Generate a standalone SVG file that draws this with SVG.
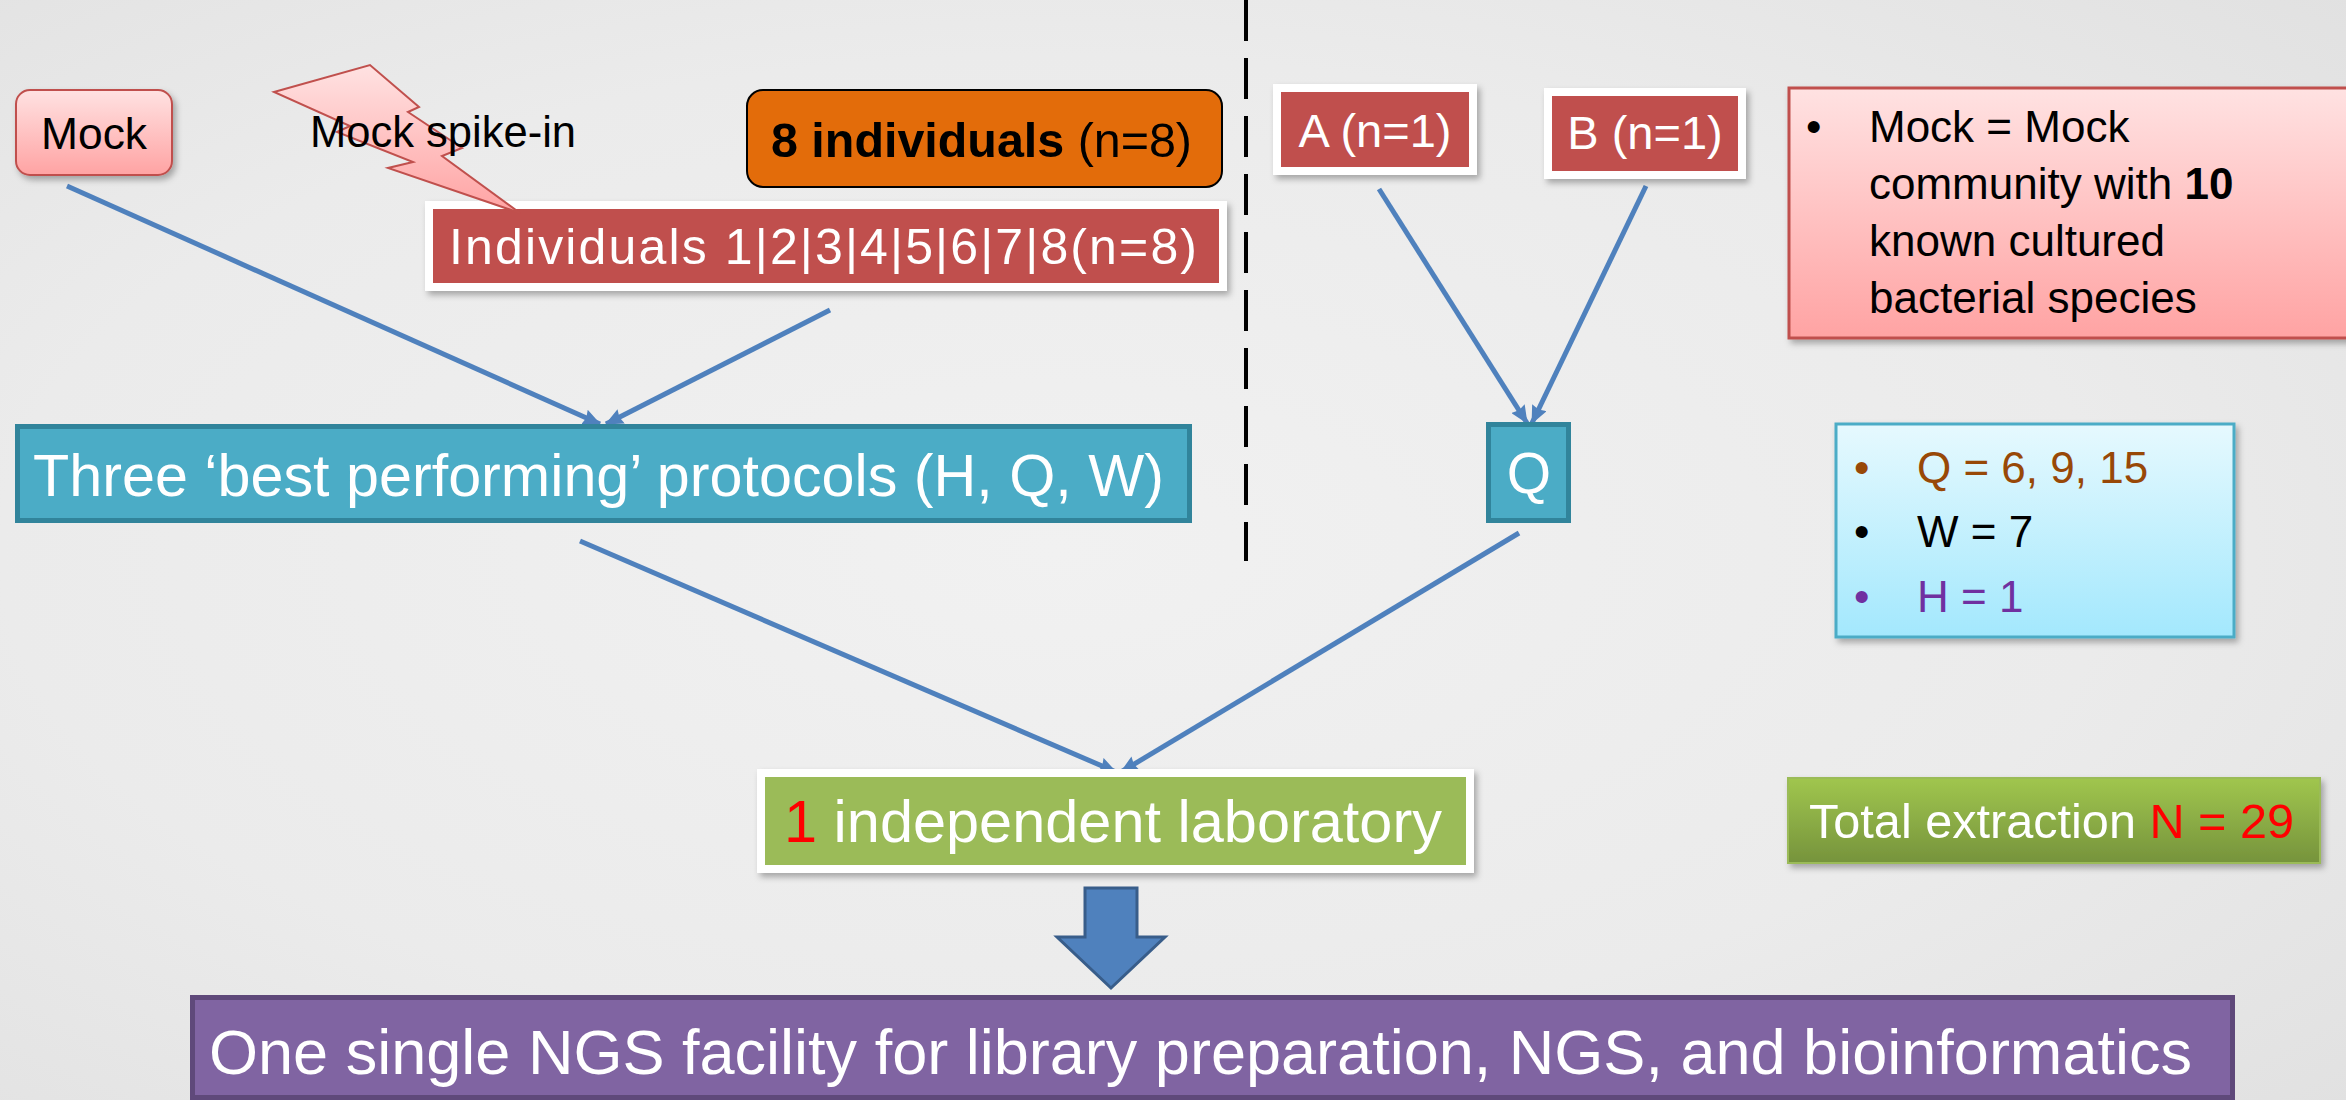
<svg xmlns="http://www.w3.org/2000/svg" width="2346" height="1100" viewBox="0 0 2346 1100">
<style>
text{font-family:"Liberation Sans",Arial,sans-serif}
.w{fill:#ffffff}
.k{fill:#000000}
.red{fill:#C0504D;stroke:#ffffff;stroke-width:8}
.teal{fill:#4BACC6;stroke:#31849B;stroke-width:5}
.conn{stroke:#4F81BD;stroke-width:5;fill:none;marker-end:url(#ah)}
</style>
<defs>
<radialGradient id="bg" cx="0.45" cy="0.5" r="0.75">
<stop offset="0" stop-color="#F1F1F1"/>
<stop offset="0.6" stop-color="#EBEBEB"/>
<stop offset="1" stop-color="#E1E1E1"/>
</radialGradient>
<linearGradient id="pink" x1="0" y1="0" x2="0" y2="1">
<stop offset="0" stop-color="#FFE2E2"/>
<stop offset="1" stop-color="#FFA3A3"/>
</linearGradient>
<linearGradient id="cyan" x1="0" y1="0" x2="0" y2="1">
<stop offset="0" stop-color="#E6F9FE"/>
<stop offset="1" stop-color="#A3E8FD"/>
</linearGradient>
<linearGradient id="green" x1="0" y1="0" x2="0" y2="1">
<stop offset="0" stop-color="#A0C64E"/>
<stop offset="1" stop-color="#76933C"/>
</linearGradient>
<filter id="sh" x="-10%" y="-20%" width="120%" height="150%">
<feDropShadow dx="3" dy="4" stdDeviation="3" flood-color="#000" flood-opacity="0.3"/>
</filter>
<marker id="ah" viewBox="0 0 18 16" refX="17" refY="8" markerWidth="18" markerHeight="16" markerUnits="userSpaceOnUse" orient="auto">
<path d="M0,0 L18,8 L0,16 L2,8 Z" fill="#4F81BD"/>
</marker>
</defs>
<rect x="0" y="0" width="2346" height="1100" fill="url(#bg)"/>

<g id="divider">
<line x1="1246" y1="0" x2="1246" y2="561" stroke="#000" stroke-width="4" stroke-dasharray="41 17"/>
</g>

<g id="connectors">
<line class="conn" x1="67" y1="186" x2="600" y2="424"/>
<line class="conn" x1="830" y1="310" x2="606" y2="424"/>
<line class="conn" x1="1379" y1="189" x2="1527" y2="423"/>
<line class="conn" x1="1646" y1="186" x2="1532" y2="423"/>
<line class="conn" x1="580" y1="541" x2="1116" y2="772"/>
<line class="conn" x1="1519" y1="533" x2="1121" y2="772"/>
</g>

<g id="mock">
<rect x="16" y="90" width="156" height="85" rx="14" fill="url(#pink)" stroke="#C0504D" stroke-width="2" filter="url(#sh)"/>
<text x="94" y="149" font-size="44" text-anchor="middle" class="k" textLength="106" lengthAdjust="spacingAndGlyphs">Mock</text>
</g>

<g id="eight">
<rect x="747" y="90" width="475" height="97" rx="16" fill="#E36C0A" stroke="#000" stroke-width="2"/>
<text x="771" y="157" font-size="48" class="k" textLength="421" lengthAdjust="spacingAndGlyphs"><tspan font-weight="bold">8 individuals</tspan> (n=8)</text>
</g>

<g id="individuals">
<rect x="429" y="205" width="794" height="82" class="red" filter="url(#sh)"/>
<text x="449" y="264" font-size="50" class="w" textLength="748" lengthAdjust="spacing">Individuals 1|2|3|4|5|6|7|8(n=8)</text>
</g>

<g id="spike">
<path d="M274,92 L370,65 L419,107 L408,112 L462,148 L442,156 L520,213 L388,168 L413,162 L337,132 L350,126 Z" fill="url(#pink)" stroke="#C0504D" stroke-width="2" stroke-linejoin="miter"/>
<text x="310" y="147" font-size="44" class="k" textLength="266" lengthAdjust="spacingAndGlyphs">Mock spike-in</text>
</g>

<g id="a">
<rect x="1277" y="88" width="196" height="83" class="red" filter="url(#sh)"/>
<text x="1375" y="147" font-size="47" class="w" text-anchor="middle">A (n=1)</text>
</g>

<g id="b">
<rect x="1548" y="92" width="194" height="83" class="red" filter="url(#sh)"/>
<text x="1645" y="149" font-size="47" class="w" text-anchor="middle">B (n=1)</text>
</g>

<g id="mocknote">
<rect x="1789" y="88" width="580" height="250" fill="url(#pink)" stroke="#C0504D" stroke-width="3" filter="url(#sh)"/>
<text font-size="44" class="k">
<tspan x="1806" y="142">•</tspan>
<tspan x="1869" y="142">Mock = Mock</tspan>
<tspan x="1869" y="199">community with <tspan font-weight="bold">10</tspan></tspan>
<tspan x="1869" y="256">known cultured</tspan>
<tspan x="1869" y="313">bacterial species</tspan>
</text>
</g>

<g id="protocols">
<rect x="17.5" y="426.5" width="1172" height="94" class="teal"/>
<text x="33" y="496" font-size="59" class="w" textLength="1131" lengthAdjust="spacingAndGlyphs">Three ‘best performing’ protocols (H, Q, W)</text>
</g>

<g id="q">
<rect x="1488.5" y="424.5" width="80" height="96" class="teal"/>
<text x="1529" y="493" font-size="57" class="w" text-anchor="middle">Q</text>
</g>

<g id="protocolnote">
<rect x="1836" y="424" width="398" height="213" fill="url(#cyan)" stroke="#4BACC6" stroke-width="3" filter="url(#sh)"/>
<text font-size="44">
<tspan x="1854" y="483" fill="#984807">•</tspan>
<tspan x="1917" y="483" fill="#984807">Q = 6, 9, 15</tspan>
<tspan x="1854" y="547" fill="#000">•</tspan>
<tspan x="1917" y="547" fill="#000">W = 7</tspan>
<tspan x="1854" y="612" fill="#7030A0">•</tspan>
<tspan x="1917" y="612" fill="#7030A0">H = 1</tspan>
</text>
</g>

<g id="lab">
<rect x="761" y="773" width="709" height="96" fill="#9BBB59" stroke="#ffffff" stroke-width="8" filter="url(#sh)"/>
<text x="784" y="842" font-size="59" class="w" textLength="658" lengthAdjust="spacingAndGlyphs"><tspan fill="#FF0000">1</tspan> independent laboratory</text>
</g>

<g id="total">
<rect x="1788" y="778" width="532" height="85" fill="url(#green)" stroke="#9BBB59" stroke-width="2" filter="url(#sh)"/>
<text x="1809" y="838" font-size="48" class="w" textLength="485" lengthAdjust="spacingAndGlyphs">Total extraction <tspan fill="#FF0000">N = 29</tspan></text>
</g>

<g id="blockarrow">
<path d="M1085,888 L1137,888 L1137,937 L1165,937 L1111,988 L1057,937 L1085,937 Z" fill="#4F81BD" stroke="#385D8A" stroke-width="3"/>
</g>

<g id="ngs">
<rect x="192.5" y="997.5" width="2040" height="100" fill="#8064A2" stroke="#5F497A" stroke-width="5"/>
<text x="209" y="1074" font-size="63" class="w" textLength="1983" lengthAdjust="spacingAndGlyphs">One single NGS facility for library preparation, NGS, and bioinformatics</text>
</g>
</svg>
